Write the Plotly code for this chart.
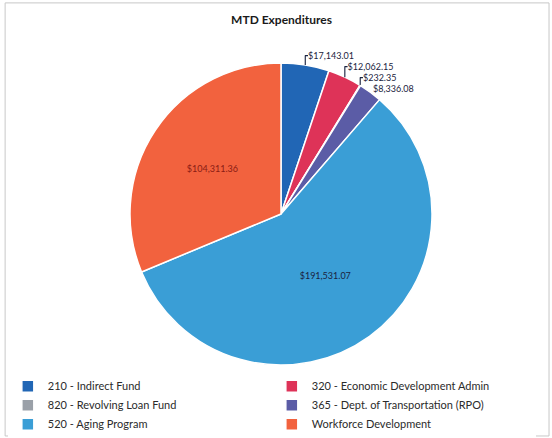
import plotly.graph_objects as go

title = "MTD Expenditures"
categories = [
    "210 - Indirect Fund",
    "320 - Economic Development Admin",
    "820 - Revolving Loan Fund",
    "365 - Dept. of Transportation (RPO)",
    "520 - Aging Program",
    "Workforce Development",
]
values = [17143.01, 12062.15, 232.35, 8336.08, 191531.07, 104311.36]
colors = ["#2166B5", "#DE3358", "#9AA0A8", "#5B5CA6", "#3A9ED6", "#F2623E"]
text_colors = ["#1A2340", "#1A2340", "#1A2340", "#1A2340", "#1A2340", "#8A1C14"]
positions = ["outside", "outside", "outside", "outside", "inside", "inside"]

labels_text = ["${:,.2f}".format(v) for v in values]

fig = go.Figure(
    go.Pie(
        labels=categories,
        values=values,
        text=labels_text,
        textinfo="text",
        textposition=positions,
        insidetextorientation="horizontal",
        sort=False,
        direction="clockwise",
        rotation=0,
        marker=dict(colors=colors, line=dict(color="white", width=1.5)),
        textfont=dict(family="Lato", size=9, color=text_colors),
        outsidetextfont=dict(family="Lato", size=9, color="#1A2340"),
        domain=dict(x=[0.0, 1.0], y=[0.0, 1.0]),
        showlegend=True,
    )
)

fig.update_layout(
    width=552,
    height=438,
    paper_bgcolor="white",
    plot_bgcolor="white",
    margin=dict(l=10, r=0, t=63, b=73, autoexpand=False),
    title=dict(
        text="<b>" + title + "</b>",
        x=0.51,
        xanchor="center",
        y=0.955,
        yanchor="middle",
        font=dict(family="Lato", size=12, color="#1A1A1A"),
    ),
    legend=dict(
        orientation="h",
        x=-0.004,
        xanchor="left",
        y=-0.022,
        yanchor="top",
        entrywidth=219,
        entrywidthmode="pixels",
        font=dict(family="Lato", size=11, color="#2B2B2B"),
        tracegroupgap=0,
    ),
    shapes=[
        dict(
            type="rect", xref="paper", yref="paper",
            x0=-0.009, x1=0.9945, y0=-0.235, y1=1.199,
            line=dict(color="#C8C8C8", width=1),
        )
    ],
)

fig.write_html("out.html")
